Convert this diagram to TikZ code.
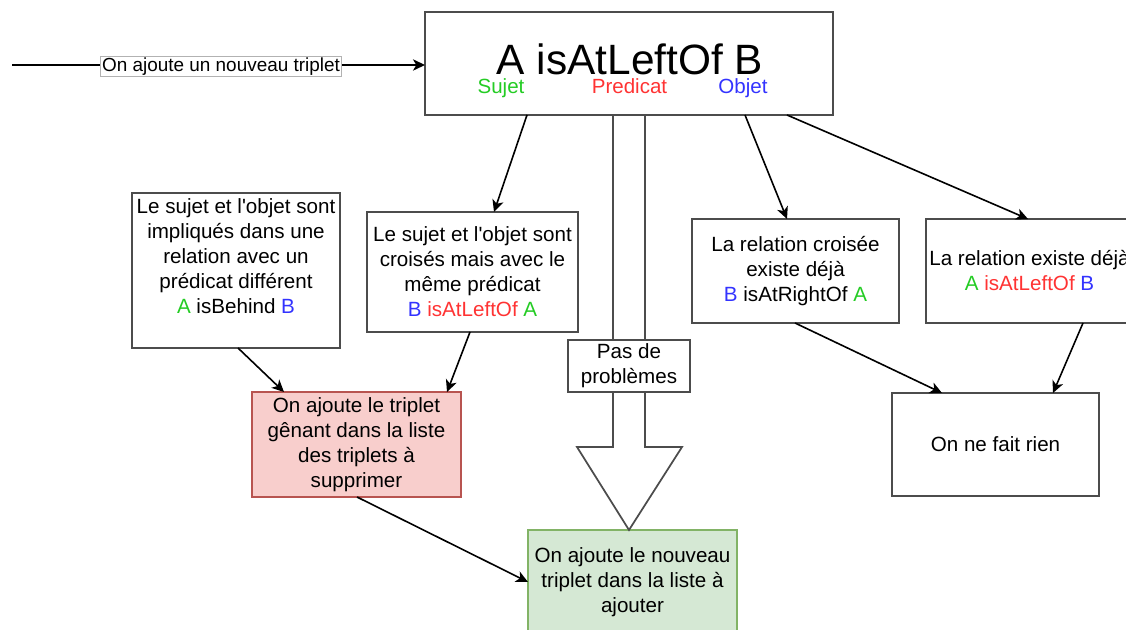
\documentclass[tikz,border=0pt]{standalone}
\usepackage{fontspec}
\setmainfont{Liberation Sans}[Ligatures=TeXOff]
\usetikzlibrary{arrows.meta,calc}
\definecolor{sujet}{RGB}{36,204,36}
\definecolor{pred}{RGB}{255,51,51}
\definecolor{objet}{RGB}{51,51,255}
\definecolor{redfill}{HTML}{F8CECC}
\definecolor{redline}{HTML}{B85450}
\definecolor{greenfill}{HTML}{D5E8D4}
\definecolor{greenline}{HTML}{82B366}
\newcommand{\tSj}[1]{\textcolor{sujet}{#1}}
\newcommand{\tPr}[1]{\textcolor{pred}{#1}}
\newcommand{\tOb}[1]{\textcolor{objet}{#1}}
\begin{document}
\begin{tikzpicture}[x=0.75pt,y=-0.75pt,
  box/.style={draw=black!70, line width=1.3pt, fill=white, rectangle,
    inner sep=0pt, outer sep=0pt, align=center,
    font=\fontsize{15.45pt}{18.75pt}\selectfont},
  txt/.style={align=center, inner sep=0pt,
    font=\fontsize{15.45pt}{18.75pt}\selectfont},
  sub/.style={anchor=base, inner sep=0pt, font=\fontsize{15.4pt}{16pt}\selectfont},
  link/.style={draw=black, line width=1.2pt,
    -{Stealth[length=9pt,width=8.5pt,inset=2.5pt]}},
]
\useasboundingbox (0,0) rectangle (1126,630);
\clip (0,0) rectangle (1126,630);

% triple being added
\node[box, minimum width=306pt, minimum height=77.25pt] (main) at (629,63.5) {};
\node[anchor=base, inner sep=0pt, font=\fontsize{31.8pt}{36pt}\selectfont] (title) at (630,75) {A isAtLeftOf B};
\node[sub, text=sujet] (lsujet) at (501,94) {Sujet};
\node[sub, text=pred] (lpred) at (629.5,94) {Predicat};
\node[sub, text=objet] (lobjet) at (743,94) {Objet};

% conflict cases
\node[box, minimum width=156pt, minimum height=116.25pt] (l1) at (236,270.5) {};
\node[txt, anchor=north] (l1t) at ($(l1.north)+(0,5)$) {Le sujet et l'objet sont\\impliqués dans une\\relation avec un\\prédicat différent\\\tSj{A} isBehind \tOb{B}};
\node[box, minimum width=158.25pt, minimum height=90pt] (l2) at (472.5,272)
  {Le sujet et l'objet sont\\croisés mais avec le\\même prédicat\\\tOb{B} \tPr{isAtLeftOf} \tSj{A}};
\node[box, minimum width=155.25pt, minimum height=78pt] (r1) at (795.5,271)
  {La relation croisée\\existe déjà\\\tOb{B} isAtRightOf \tSj{A}};
\node[box, minimum width=155.25pt, minimum height=78pt] (r2) at (1029.5,271)
  {La relation existe déjà\\\tSj{A} \tPr{isAtLeftOf} \tOb{B}};

% outcomes
\node[box, draw=redline, fill=redfill, minimum width=156.75pt, minimum height=78.75pt] (red) at (356.5,444.5)
  {On ajoute le triplet\\gênant dans la liste\\des triplets à\\supprimer};
\node[box, draw=greenline, fill=greenfill, minimum width=156.75pt, minimum height=78pt] (green) at (632.5,582)
  {On ajoute le nouveau\\triplet dans la liste à\\ajouter};
\node[box, minimum width=155.25pt, minimum height=77.25pt] (rien) at (995.5,444.5) {On ne fait rien};

% wide arrow for the case without conflict
\draw[draw=black!70, line width=1.3pt, fill=white, line join=miter]
  ($(main.south)+(-16,0)$) -- ($(main.south)+(16,0)$) -- ($(main.south)+(16,332)$)
  -- ($(main.south)+(53,332)$) -- (main.south |- green.north)
  -- ($(main.south)+(-52,332)$) -- ($(main.south)+(-16,332)$) -- cycle;
\node[box, minimum width=91.5pt, minimum height=39pt] (pas) at (629,366) {Pas de\\problèmes};

% connectors
\coordinate (src) at (12,65);
\draw[link] (src) -- (src -| main.west);
\node[draw=black!30, line width=0.6pt, fill=white, inner sep=1pt,
  font=\fontsize{14.2pt}{16pt}\selectfont] (lbl) at (221,66.5) {On ajoute un nouveau triplet};

\draw[link] ($(main.south west)+(102,0)$) -- ($(l2.north west)+(127,0)$);
\draw[link] ($(main.south west)+(320,0)$) -- ($(r1.north west)+(95,0)$);
\draw[link] ($(main.south west)+(362,0)$) -- ($(r2.north west)+(102,0)$);
\draw[link] ($(l1.south west)+(106,0)$) -- ($(red.north west)+(32,0)$);
\draw[link] ($(l2.south west)+(103,0)$) -- ($(red.north west)+(195,0)$);
\draw[link] ($(red.south west)+(105,0)$) -- (green.west);
\draw[link] ($(r1.south west)+(103,0)$) -- ($(rien.north west)+(50,0)$);
\draw[link] ($(r2.south west)+(157,0)$) -- ($(rien.north west)+(161,0)$);
\end{tikzpicture}
\end{document}
